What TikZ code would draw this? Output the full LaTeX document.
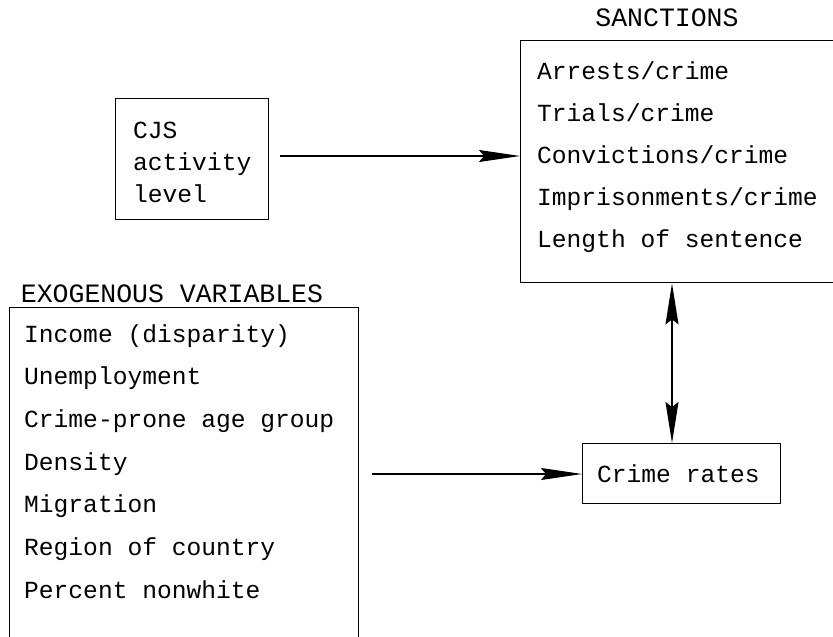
\documentclass[tikz,border=0pt]{standalone}
\usepackage{fontspec}
\setmainfont{Liberation Mono}
\usetikzlibrary{arrows.meta}
\tikzset{
  x=1pt, y=-1pt,
  box/.style={draw, line width=1.4pt, inner sep=0pt, anchor=north west},
  item/.style={anchor=base west, inner sep=0pt, font=\fontsize{24.6}{28}\selectfont},
  title/.style={anchor=base, inner sep=0pt, font=\fontsize{26.5}{30}\selectfont},
  conn/.style={line width=1.4pt, -{Stealth[length=41pt,width=12pt,inset=5pt]}},
  dconn/.style={line width=1.4pt, {Stealth[length=41pt,width=13pt,inset=5pt]}-{Stealth[length=41pt,width=13pt,inset=5pt]}},
}
\begin{document}
\begin{tikzpicture}
\useasboundingbox (0,0) rectangle (833,637);
\clip (0,0) rectangle (833,637);
% CJS box
\node[box, minimum width=153pt, minimum height=121pt] (cjs) at (115,98) {};
\node[item] (c1) at (133,138) {CJS};
\node[item] (c2) at (133,170.5) {activity};
\node[item] (c3) at (133,202) {level};
% Sanctions
\node[title] (st) at (667,26) {SANCTIONS};
\node[box, minimum width=330pt, minimum height=242pt] (sanc) at (520,40) {};
\node[item] (s1) at (537,79) {Arrests/crime};
\node[item] (s2) at (537,121) {Trials/crime};
\node[item] (s3) at (537,163) {Convictions/crime};
\node[item] (s4) at (537,205) {Imprisonments/crime};
\node[item] (s5) at (537,247) {Length of sentence};
% Exogenous
\node[title] (et) at (172,302) {EXOGENOUS VARIABLES};
\node[box, minimum width=349pt, minimum height=350pt] (exo) at (9,307) {};
\node[item] (e1) at (24,342) {Income (disparity)};
\node[item] (e2) at (24,384.7) {Unemployment};
\node[item] (e3) at (24,427.4) {Crime-prone age group};
\node[item] (e4) at (24,470.1) {Density};
\node[item] (e5) at (24,512.8) {Migration};
\node[item] (e6) at (24,555.5) {Region of country};
\node[item] (e7) at (24,598.2) {Percent nonwhite};
% Crime rates
\node[box, minimum width=198pt, minimum height=60pt] (crime) at (582,443) {};
\node[item] (cr) at (597,482) {Crime rates};
% connectors
\coordinate (a1s) at (280,156);
\coordinate (a1e) at (520,156);
\draw[conn] (a1s) -- (a1e);
\coordinate (a2s) at (372,474);
\coordinate (a2e) at (582,474);
\draw[conn] (a2s) -- (a2e);
\coordinate (dx) at (672,0);
\draw[dconn] (sanc.south -| dx) -- (crime.north -| dx);
\end{tikzpicture}
\end{document}
